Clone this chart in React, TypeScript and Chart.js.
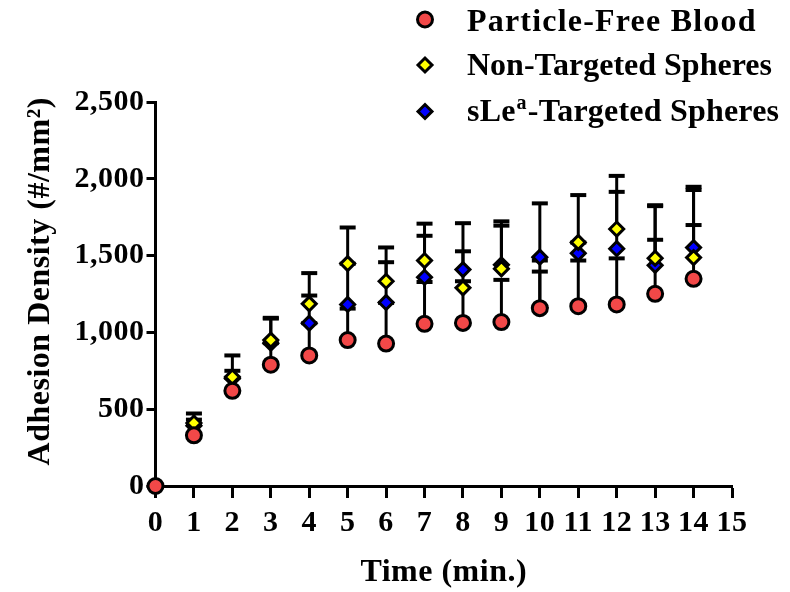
import React, { useEffect, useRef } from 'react';
import { Chart, registerables } from 'chart.js';

Chart.register(...registerables);

// ---- data ----
const times = [0, 1, 2, 3, 4, 5, 6, 7, 8, 9, 10, 11, 12, 13, 14];
const xTickValues = [0, 1, 2, 3, 4, 5, 6, 7, 8, 9, 10, 11, 12, 13, 14, 15];
const yTickValues = [0, 500, 1000, 1500, 2000, 2500];
const seriesLabels = ['Particle-Free Blood', 'Non-Targeted Spheres', 'sLeᵃ-Targeted Spheres'];

const particleFree = [0, 330, 620, 790, 850, 950, 927, 1056, 1062, 1067, 1158, 1171, 1182, 1251, 1349];
const particleFreeErr = [0, 70, 85, 140, 210, 205, 265, 272, 271, 275, 238, 297, 300, 352, 350];

const nonTargeted = [0, 410, 710, 950, 1186, 1448, 1333, 1468, 1290, 1414, 1160, 1586, 1673, 1483, 1487];
const nonTargetedErr = [0, 62, 140, 145, 200, 235, 220, 240, 238, 281, 308, 308, 346, 345, 440];

const sleaTargeted = [0, 392, 700, 930, 1060, 1182, 1195, 1359, 1409, 1440, 1490, 1515, 1545, 1437, 1552];
const sleaTargetedErr = [0, 40, 50, 160, 180, 265, 262, 270, 302, 283, 350, 70, 370, 385, 396];

const FONT = '"Liberation Serif", "Times New Roman", serif';
const LETTER_SPACING = '0.5px';

function drawMarker(ctx: CanvasRenderingContext2D, style: string, x: number, y: number, r: number, fill: string, bw: number) {
  ctx.beginPath();
  if (style === 'circle') {
    ctx.arc(x, y, r, 0, Math.PI * 2);
  } else {
    ctx.moveTo(x - r, y);
    ctx.lineTo(x, y - r);
    ctx.lineTo(x + r, y);
    ctx.lineTo(x, y + r);
    ctx.closePath();
  }
  ctx.fillStyle = fill;
  ctx.fill();
  ctx.lineWidth = bw;
  ctx.strokeStyle = '#000';
  ctx.stroke();
}

const spacingPlugin = {
  id: 'letterSpacing',
  beforeLayout(chart: any) { (chart.ctx as any).letterSpacing = LETTER_SPACING; },
  beforeDraw(chart: any) { (chart.ctx as any).letterSpacing = LETTER_SPACING; },
};

const errorBarPlugin = {
  id: 'errorBars',
  beforeDatasetsDraw(chart: any) {
    const { ctx, scales } = chart;
    const xs = scales.x;
    const ys = scales.y;
    ctx.save();
    ctx.strokeStyle = '#000';
    ctx.lineCap = 'butt';
    chart.data.datasets.forEach((ds: any) => {
      const errs: number[] = ds.errors || [];
      ds.data.forEach((p: any, i: number) => {
        const e = errs[i];
        if (!e) return;
        const px = xs.getPixelForValue(p.x);
        const py = ys.getPixelForValue(p.y);
        const pe = ys.getPixelForValue(p.y + e);
        ctx.lineWidth = 3;
        ctx.beginPath();
        ctx.moveTo(px, py);
        ctx.lineTo(px, pe);
        ctx.stroke();
        ctx.lineWidth = 4;
        ctx.beginPath();
        ctx.moveTo(px - 8, pe);
        ctx.lineTo(px + 8, pe);
        ctx.stroke();
      });
    });
    ctx.restore();
  },
};

const legendPlugin = {
  id: 'customLegend',
  afterDraw(chart: any) {
    const ctx: CanvasRenderingContext2D = chart.ctx;
    const markerX = 425;
    const textX = 467;
    const markerY = [19.5, 65, 111.5];
    const baseY = [30.5, 75, 121];
    const spacing = ['1.2px', '0px', '0.2px'];
    ctx.save();
    chart.data.datasets.forEach((ds: any, i: number) => {
      drawMarker(ctx, ds.pointStyle, markerX, markerY[i], ds.pointRadius, ds.backgroundColor, ds.borderWidth);
      (ctx as any).letterSpacing = spacing[i];
      const label: string = ds.label;
      ctx.fillStyle = '#000';
      ctx.textBaseline = 'alphabetic';
      ctx.textAlign = 'left';
      const parts = label.split('ᵃ');
      let x = textX;
      ctx.font = `bold 32px ${FONT}`;
      ctx.fillText(parts[0], x, baseY[i]);
      x += ctx.measureText(parts[0]).width;
      if (parts.length > 1) {
        ctx.font = `bold 20px ${FONT}`;
        ctx.fillText('a', x + 1, baseY[i] - 12);
        x += ctx.measureText('a').width + 2;
        ctx.font = `bold 32px ${FONT}`;
        ctx.fillText(parts[1], x, baseY[i]);
      }
    });
    ctx.restore();
  },
};

function makeDataset(label: string, values: number[], errors: number[], style: string, color: string, radius: number, order: number) {
  return {
    label,
    data: times.map((t, i) => ({ x: t, y: values[i] })),
    errors,
    pointStyle: style,
    pointRadius: radius,
    pointHoverRadius: radius,
    backgroundColor: color,
    borderColor: '#000',
    borderWidth: 3,
    showLine: false,
    clip: false as any,
    order,
  };
}

export default function App() {
  const canvasRef = useRef<HTMLCanvasElement | null>(null);

  useEffect(() => {
    document.body.style.margin = '0';
    const canvas = canvasRef.current;
    if (!canvas) return;
    const chart = new Chart(canvas, {
      type: 'scatter',
      data: {
        datasets: [
          makeDataset(seriesLabels[0], particleFree, particleFreeErr, 'circle', '#F24848', 7.5, 0),
          makeDataset(seriesLabels[1], nonTargeted, nonTargetedErr, 'rectRot', '#FFFF00', 7, 1),
          makeDataset(seriesLabels[2], sleaTargeted, sleaTargetedErr, 'rectRot', '#0000FF', 7, 2),
        ] as any,
      },
      options: {
        responsive: false,
        animation: false,
        devicePixelRatio: 1,
        layout: { padding: { left: 0, right: 58, top: 102, bottom: 0 } },
        plugins: {
          legend: { display: false },
          tooltip: { enabled: false },
        },
        scales: {
          x: {
            type: 'linear',
            min: 0,
            max: 15,
            afterFit: (s: any) => { s.height = 106; },
            afterBuildTicks: (s: any) => { s.ticks = xTickValues.map((v) => ({ value: v })); },
            ticks: {
              color: '#000',
              font: { family: FONT, size: 30, weight: 'bold' },
              padding: 7,
              maxRotation: 0,
              autoSkip: false,
            },
            grid: { drawOnChartArea: false, drawTicks: true, tickLength: 12, tickWidth: 3, tickColor: '#000' },
            border: { display: true, color: '#000', width: 3 },
            title: {
              display: true,
              text: 'Time (min.)',
              color: '#000',
              font: { family: FONT, size: 32, weight: 'bold' },
              padding: { top: 0, bottom: 0 },
            },
          },
          y: {
            type: 'linear',
            min: 0,
            max: 2500,
            afterFit: (s: any) => { s.width = 155.5; },
            afterBuildTicks: (s: any) => { s.ticks = yTickValues.map((v) => ({ value: v })); },
            ticks: {
              color: '#000',
              font: { family: FONT, size: 30, weight: 'bold' },
              padding: 2,
              callback: (v: any) => Number(v).toLocaleString('en-US'),
            },
            grid: { drawOnChartArea: false, drawTicks: true, tickLength: 9, tickWidth: 3, tickColor: '#000' },
            border: { display: true, color: '#000', width: 3 },
            title: {
              display: true,
              text: '   Adhesion Density (#/mm²)',
              color: '#000',
              font: { family: FONT, size: 32, weight: 'bold' },
              padding: { top: 22, bottom: 0 },
            },
          },
        },
      },
      plugins: [spacingPlugin, errorBarPlugin, legendPlugin],
    });
    return () => chart.destroy();
  }, []);

  return (
    <div style={{ width: 790, height: 592 }}>
      <canvas ref={canvasRef} width={790} height={592} style={{ display: 'block' }} />
    </div>
  );
}
